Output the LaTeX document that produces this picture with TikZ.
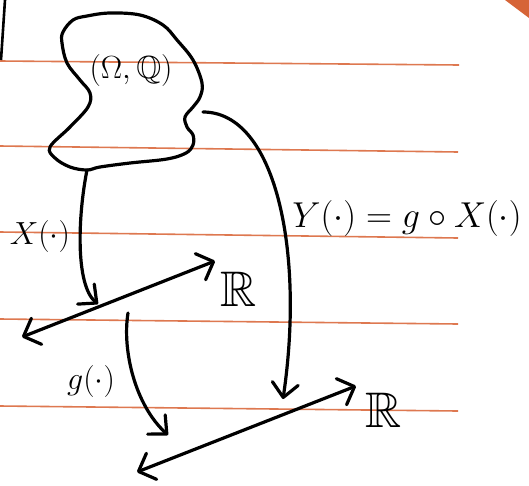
\RequirePackage{fix-cm}
\documentclass[tikz,border=0pt]{standalone}
\usepackage{amssymb}
\usetikzlibrary{arrows.meta}
\definecolor{ruling}{RGB}{222,120,80}
\definecolor{corner}{RGB}{214,100,55}
\tikzset{
  hand/.style={line width=3.2pt, line cap=round, line join=round, black},
  harrow/.style={hand, -{Straight Barb[length=14pt,width=26pt,line cap=round,line join=round]}},
  harrowboth/.style={hand, {Straight Barb[length=14pt,width=28pt,line cap=round,line join=round]}-{Straight Barb[length=14pt,width=28pt,line cap=round,line join=round]}},
  rule/.style={line width=1.6pt, ruling},
  lbl/.style={inner sep=0pt, font=\fontsize{32}{38}\selectfont},
  rlbl/.style={inner sep=0pt, font=\fontsize{50}{58}\selectfont},
}
\begin{document}
\begin{tikzpicture}[x=1pt,y=-1pt]
\useasboundingbox (0,0) rectangle (529,485);
\fill[white] (0,0) rectangle (529,485);
% ruled paper
\draw[rule] (0,61) -- (459,65);
\draw[rule] (0,146) -- (458,152);
\draw[rule] (0,232) -- (458,238);
\draw[rule] (0,319) -- (458,324);
\draw[rule] (0,406) -- (458,411);
\fill[corner] (505,0) -- (529,0) -- (529,18) -- cycle;
\draw[line width=2.6pt] (5,0) -- (1,60);
% blob
\draw[hand] plot[smooth cycle, tension=0.6] coordinates {
 (63,32) (73,20) (87,16) (110,13) (140,15) (163,25) (177,40) (193,60)
 (202,83) (200,97) (193,107) (185,117) (187,127) (193,135) (193,145) (186,153)
 (167,159) (130,163) (100,167) (87,170) (70,167) (55,158) (50,147)
 (70,127) (88,107) (90,93) (80,80) (67,63) (62,43)};
\node[lbl] (omega) at (131,70) {$(\Omega,\mathbb{Q})$};
% named points
\coordinate (xs) at (87,170);
\coordinate (xe) at (98,304);
\coordinate (ys) at (203,112);
\coordinate (ye) at (283,399);
\coordinate (r1a) at (22,337);
\coordinate (r1b) at (215,261);
\coordinate (gs) at (128,313);
\coordinate (ge) at (168,435);
\coordinate (r2a) at (137,472);
\coordinate (r2b) at (356,386);
% real lines
\draw[harrowboth] (r1a) -- (r1b);
\draw[harrowboth] (r2a) -- (r2b);
\node[rlbl] (R1) at (239,289) {$\mathbb{R}$};
\node[rlbl] (R2) at (384,410) {$\mathbb{R}$};
% maps
\draw[harrow] (xs) .. controls (78,215) and (75,285) .. (xe);
\draw[harrow] (ys) .. controls (275,112) and (305,250) .. (ye);
\draw[harrow] (gs) .. controls (122,350) and (135,405) .. (ge);
\node[lbl] (xl) at (40,236) {$X(\cdot)$};
\node[lbl] (gl) at (91,381) {$g(\cdot)$};
\node[lbl, font=\fontsize{36}{42}\selectfont] (yl) at (407,218) {$Y(\cdot) = g\circ X(\cdot)$};
\end{tikzpicture}
\end{document}
